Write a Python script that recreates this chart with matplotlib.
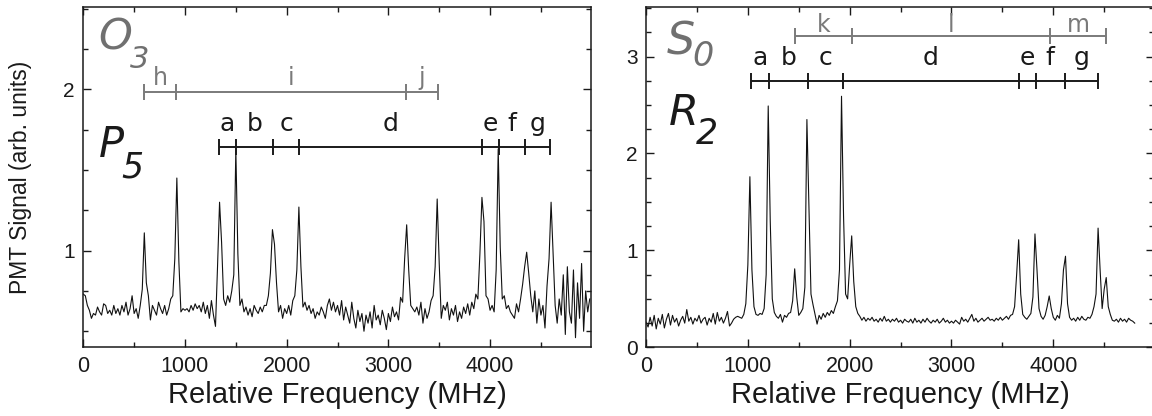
import numpy as np
import matplotlib
matplotlib.use("Agg")
import matplotlib.pyplot as plt
from matplotlib.ticker import MultipleLocator

# sample spacing of both traces (MHz)
step = 20

# O3 / P5 band trace, one value per 20 MHz starting at 0
o3_signal = [
    0.73, 0.72, 0.66, 0.63, 0.58, 0.61, 0.60, 0.65, 0.62, 0.60,
    0.67, 0.66, 0.61, 0.63, 0.60, 0.66, 0.61, 0.64, 0.60, 0.66,
    0.62, 0.68, 0.60, 0.64, 0.72, 0.61, 0.64, 0.58, 0.66, 0.76,
    1.11, 0.80, 0.72, 0.57, 0.66, 0.63, 0.60, 0.68, 0.64, 0.61,
    0.66, 0.60, 0.64, 0.70, 0.72, 0.95, 1.45, 0.93, 0.62, 0.64,
    0.63, 0.64, 0.62, 0.66, 0.63, 0.67, 0.64, 0.66, 0.62, 0.68,
    0.61, 0.66, 0.58, 0.69, 0.60, 0.53, 0.90, 1.30, 1.05, 0.70,
    0.66, 0.72, 0.68, 0.75, 0.85, 1.63, 0.98, 0.66, 0.70, 0.62,
    0.65, 0.60, 0.64, 0.59, 0.66, 0.63, 0.61, 0.65, 0.62, 0.66,
    0.66, 0.72, 0.86, 1.13, 1.04, 0.80, 0.62, 0.66, 0.58, 0.64,
    0.61, 0.66, 0.60, 0.69, 0.72, 0.88, 1.27, 0.90, 0.65, 0.68,
    0.63, 0.66, 0.61, 0.64, 0.58, 0.62, 0.60, 0.65, 0.62, 0.58,
    0.66, 0.70, 0.63, 0.68, 0.62, 0.66, 0.60, 0.69, 0.57, 0.65,
    0.60, 0.55, 0.68, 0.58, 0.52, 0.63, 0.56, 0.61, 0.50, 0.60,
    0.55, 0.62, 0.52, 0.66, 0.57, 0.60, 0.54, 0.63, 0.58, 0.51,
    0.61, 0.56, 0.65, 0.59, 0.62, 0.57, 0.71, 0.68, 0.95, 1.16,
    0.88, 0.66, 0.64, 0.62, 0.65, 0.60, 0.68, 0.55, 0.64, 0.58,
    0.62, 0.69, 0.72, 0.90, 1.32, 0.92, 0.58, 0.66, 0.63, 0.68,
    0.57, 0.64, 0.60, 0.66, 0.56, 0.62, 0.58, 0.65, 0.61, 0.67,
    0.60, 0.68, 0.64, 0.73, 0.70, 0.98, 1.33, 1.18, 0.72, 0.70,
    0.63, 0.66, 0.62, 0.88, 1.63, 1.02, 0.70, 0.72, 0.64, 0.66,
    0.62, 0.60, 0.58, 0.67, 0.62, 0.70, 0.79, 0.90, 0.99, 0.86,
    0.72, 0.62, 0.75, 0.55, 0.70, 0.60, 0.66, 0.52, 0.78, 0.95,
    1.30, 0.98, 0.66, 0.55, 0.70, 0.60, 0.85, 0.48, 0.90, 0.62,
    0.55, 0.88, 0.46, 0.80, 0.58, 0.92, 0.50, 0.75, 0.62, 0.70,
]

# S0 / R2 band trace, one value per 20 MHz starting at 0
s0_signal = [
    0.26, 0.21, 0.31, 0.22, 0.33, 0.19, 0.30, 0.24, 0.34, 0.20,
    0.29, 0.35, 0.23, 0.33, 0.26, 0.30, 0.22, 0.28, 0.32, 0.25,
    0.39, 0.27, 0.31, 0.24, 0.30, 0.27, 0.33, 0.25, 0.29, 0.31,
    0.23, 0.30, 0.26, 0.35, 0.24, 0.36, 0.27, 0.31, 0.25, 0.30,
    0.37, 0.22, 0.25, 0.29, 0.31, 0.32, 0.31, 0.30, 0.34, 0.45,
    0.85, 1.76, 0.80, 0.42, 0.34, 0.33, 0.35, 0.34, 0.40, 0.75,
    2.49, 1.30, 0.50, 0.36, 0.32, 0.30, 0.34, 0.26, 0.33, 0.31,
    0.35, 0.36, 0.48, 0.81, 0.52, 0.33, 0.36, 0.40, 0.62, 2.35,
    1.45, 0.55, 0.44, 0.34, 0.24, 0.33, 0.29, 0.35, 0.31, 0.36,
    0.33, 0.38, 0.35, 0.42, 0.48, 0.80, 2.59, 1.35, 0.55, 0.50,
    0.85, 1.15, 0.68, 0.42, 0.35, 0.32, 0.28, 0.31, 0.27, 0.30,
    0.28, 0.31, 0.27, 0.29, 0.26, 0.30, 0.27, 0.32, 0.27, 0.29,
    0.26, 0.29, 0.27, 0.30, 0.26, 0.28, 0.25, 0.29, 0.27, 0.26,
    0.29, 0.25, 0.30, 0.26, 0.28, 0.25, 0.29, 0.26, 0.30, 0.27,
    0.25, 0.28, 0.26, 0.29, 0.25, 0.27, 0.30, 0.26, 0.28, 0.25,
    0.27, 0.25, 0.28, 0.26, 0.24, 0.31, 0.27, 0.29, 0.26, 0.30,
    0.34, 0.27, 0.30, 0.26, 0.28, 0.30, 0.27, 0.29, 0.31, 0.28,
    0.29, 0.27, 0.30, 0.28, 0.31, 0.28, 0.30, 0.32, 0.29, 0.33,
    0.34, 0.42, 0.75, 1.11, 0.55, 0.34, 0.31, 0.29, 0.32, 0.35,
    0.52, 1.17, 0.80, 0.40, 0.32, 0.29, 0.33, 0.42, 0.53, 0.40,
    0.31, 0.28, 0.33, 0.30, 0.45, 0.80, 0.94, 0.45, 0.31, 0.28,
    0.30, 0.27, 0.31, 0.28, 0.32, 0.29, 0.28, 0.31, 0.30, 0.34,
    0.42, 0.55, 1.23, 0.80, 0.40, 0.60, 0.72, 0.42, 0.34, 0.28,
    0.27, 0.29, 0.26, 0.30, 0.27, 0.29, 0.26, 0.30, 0.28, 0.27,
    0.25,
]

# line assignments (MHz) and their letters
o3_lines = [600, 912, 3178, 3485]
o3_letters = ["h", "i", "j"]
p5_lines = [1337, 1500, 1866, 2122, 3925, 4085, 4346, 4592]
p5_letters = ["a", "b", "c", "d", "e", "f", "g"]
s0_lines = [1464, 2020, 3966, 4519]
s0_letters = ["k", "l", "m"]
r2_lines = [1031, 1208, 1588, 1932, 3664, 3828, 4112, 4443]
r2_letters = ["a", "b", "c", "d", "e", "f", "g"]

freq_o3 = np.arange(len(o3_signal)) * step
freq_s0 = np.arange(len(s0_signal)) * step

plt.rcParams["font.family"] = ["Liberation Sans", "DejaVu Sans"]
INK = "#1a1a1a"
GREY = "#7a7a7a"
LABEL_GREY = "#707070"


def bracket(ax, lines, letters, y, color, lift, fs):
    ax.plot([lines[0], lines[-1]], [y, y], color=color, lw=1.4, solid_capstyle="butt")
    ax.plot(lines, [y] * len(lines), ls="none", marker="|", ms=12, mew=1.4, color=color)
    for a, b, s in zip(lines[:-1], lines[1:], letters):
        ax.annotate(s, ((a + b) / 2, y), xytext=(0, lift), textcoords="offset points",
                    ha="center", va="baseline", fontsize=fs, color=color,
                    family="DejaVu Sans")


def symbol(ax, x, y, main, sub, color, fs, sub_fs, drop):
    # italic state label with a subscript glued to its right side
    t = ax.annotate(main, (x, y), fontsize=fs, style="italic", color=color,
                    family="DejaVu Sans", va="baseline")
    ax.annotate(sub, (1.0, 0.0), xycoords=t, xytext=(-2, -drop),
                textcoords="offset points", fontsize=sub_fs, style="italic",
                color=color, family="DejaVu Sans", va="baseline")


def style(ax):
    ax.set_xlim(0, 4990)
    ax.xaxis.set_major_locator(MultipleLocator(1000))
    ax.xaxis.set_minor_locator(MultipleLocator(500))
    ax.yaxis.set_major_locator(MultipleLocator(1))
    ax.yaxis.set_minor_locator(MultipleLocator(0.25))
    ax.tick_params(which="both", direction="in", top=True, right=True, color=INK, width=1)
    ax.tick_params(which="major", length=6)
    ax.tick_params(which="minor", length=3.5)
    ax.tick_params(axis="x", labelsize=15.5, pad=6, labelcolor=INK)
    ax.tick_params(axis="y", labelsize=15, pad=6, labelcolor=INK)
    for sp in ax.spines.values():
        sp.set_color(INK)
        sp.set_linewidth(1.1)
    ax.set_xlabel("Relative Frequency (MHz)", fontsize=21, color=INK, labelpad=3)


fig = plt.figure(figsize=(11.52, 4.16), dpi=100)
ax1 = fig.add_axes([0.0723, 0.165, 0.4405, 0.818])
ax2 = fig.add_axes([0.5608, 0.165, 0.4410, 0.818])

# left panel
ax1.plot(freq_o3, o3_signal, color="#111111", lw=0.8)
ax1.set_ylim(0.4, 2.51)
style(ax1)
ax1.set_ylabel("PMT Signal (arb. units)", fontsize=16.5, color=INK)
ax1.yaxis.set_label_coords(-0.102, 0.5)
bracket(ax1, o3_lines, o3_letters, 1.985, GREY, 5, 17)
bracket(ax1, p5_lines, p5_letters, 1.645, INK, 11.5, 18)
symbol(ax1, 150, 2.246, "O", "3", LABEL_GREY, 31, 22, 7)
symbol(ax1, 150, 1.58, "P", "5", INK, 30, 25, 8)

# right panel
ax2.plot(freq_s0, s0_signal, color="#111111", lw=0.8)
ax2.set_ylim(0, 3.51)
style(ax2)
bracket(ax2, s0_lines, s0_letters, 3.213, GREY, 3, 17)
bracket(ax2, r2_lines, r2_letters, 2.748, INK, 11.5, 18)
symbol(ax2, 200, 3.02, "S", "0", LABEL_GREY, 32, 24, 2)
symbol(ax2, 220, 2.29, "R", "2", INK, 31, 25, 7)

fig.savefig("out.png", dpi=100)
